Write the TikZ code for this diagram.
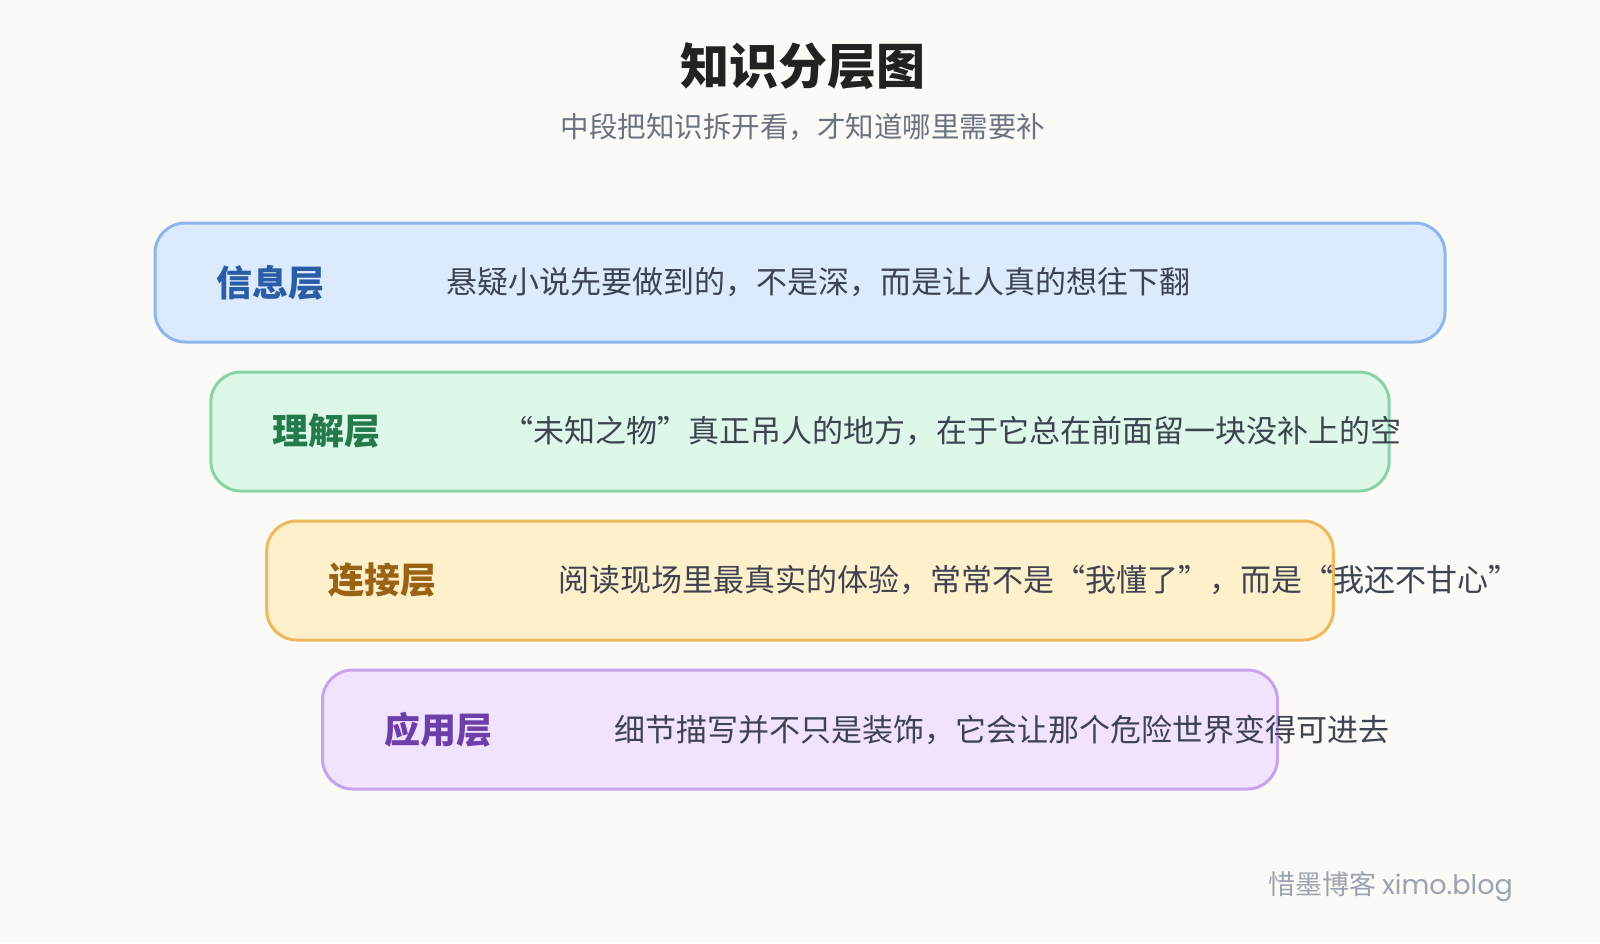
\documentclass[tikz,border=0pt]{standalone}
\usepackage{fontspec}
\setmainfont{Noto Sans CJK SC}
\newfontfamily\latinfont{Poppins}
\usepackage{tikz}
\usetikzlibrary{positioning}
\definecolor{pagebg}{HTML}{FBFAF6}
\definecolor{titleblack}{HTML}{222222}
\definecolor{subgray}{HTML}{6B7280}
\definecolor{bodygray}{HTML}{3D4450}
\definecolor{markgray}{HTML}{9AA3AF}
\definecolor{infofill}{HTML}{DCEAFD}
\definecolor{infoline}{HTML}{8DB6EE}
\definecolor{infotext}{HTML}{2A5DA6}
\definecolor{undfill}{HTML}{DDF7E9}
\definecolor{undline}{HTML}{88D4A8}
\definecolor{undtext}{HTML}{237A4B}
\definecolor{linkfill}{HTML}{FFF0CC}
\definecolor{linkline}{HTML}{F0B85C}
\definecolor{linktext}{HTML}{9A6214}
\definecolor{usefill}{HTML}{F1E2FE}
\definecolor{useline}{HTML}{C7A2EE}
\definecolor{usetext}{HTML}{6E3FA8}

\begin{document}
\begin{tikzpicture}[x = 1pt, y = -1pt,
  layer/.style={line width = 3pt, rounded corners = 30pt, minimum height = 119pt, inner sep = 0pt},
  lbl/.style={font = \fontsize{36}{40}\selectfont\bfseries, inner sep = 0pt},
  txt/.style={font = \fontsize{31}{36}\selectfont, text = bodygray, inner sep = 0pt}]
\fill[pagebg] (0,0) rectangle (1600,943);
\useasboundingbox (0,0) rectangle (1600,943);
\node[font = \fontsize{49}{54}\selectfont\bfseries, text = titleblack] (title) at (803,66) {知识分层图};
\node[font = \fontsize{28.5}{32}\selectfont, text = subgray] (subtitle) at (803,127) {中段把知识拆开看，才知道哪里需要补};
\foreach \i/\c/\lab/\txt in {0/info/信息层/{悬疑小说先要做到的，不是深，而是让人真的想往下翻},
  1/und/理解层/{“未知之物”真正吊人的地方，在于它总在前面留一块没补上的空},
  2/link/连接层/{阅读现场里最真实的体验，常常不是“我懂了”，而是“我还不甘心”},
  3/use/应用层/{细节描写并不只是装饰，它会让那个危险世界变得可进去}}{
  \node[layer, fill = \c fill, draw = \c line, minimum width = {1290pt-111.7pt*\i}] (box\i) at (800, 282.5+149*\i) {};
  \node[lbl, text = \c text, right = 63pt of box\i.west] (lab\i) {\lab};
  \node[txt, right = 230pt of lab\i.west] (txt\i) {\txt};
}
\node[anchor = east, text = markgray, font = \fontsize{27}{30}\selectfont, inner sep = 0pt] (mark) at (1513,887) {惜墨博客 {\latinfont ximo.blog}};
\end{tikzpicture}
\end{document}
